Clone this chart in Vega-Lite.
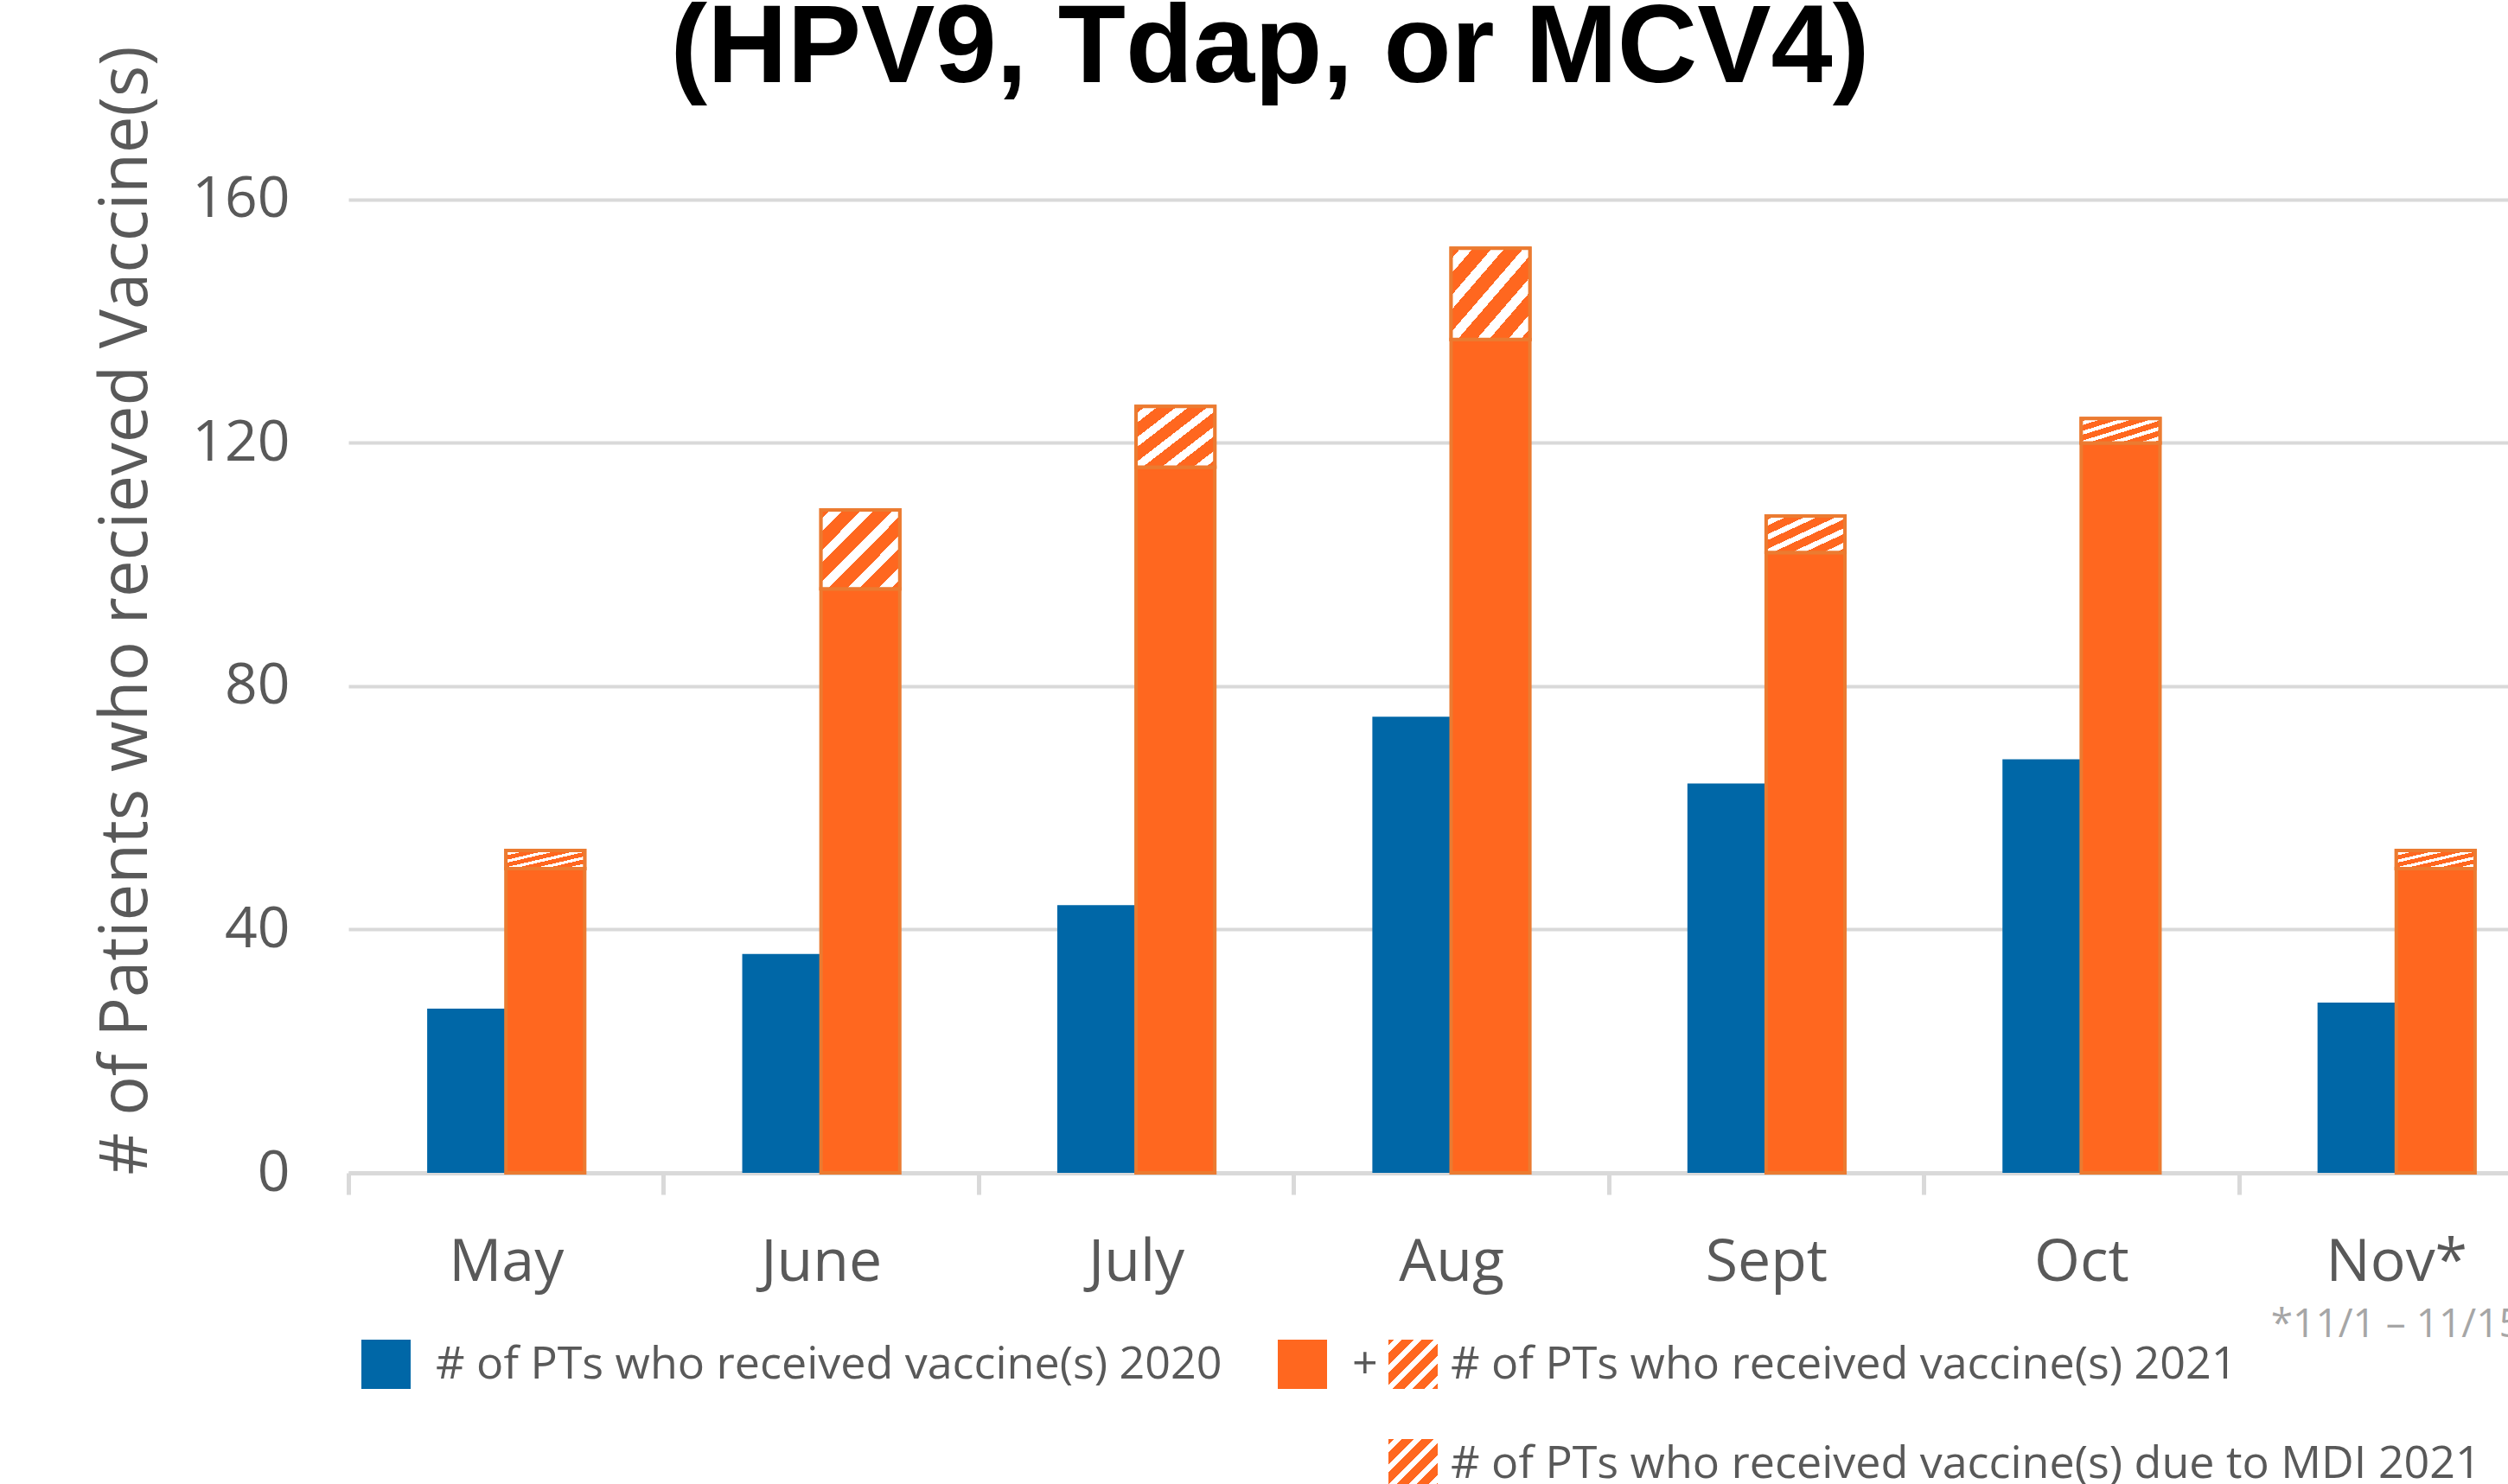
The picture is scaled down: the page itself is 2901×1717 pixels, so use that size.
{
  "$schema": "https://vega.github.io/schema/vega-lite/v6.json",
  "autosize": {"type": "none"},
  "width": 2498,
  "height": 1302,
  "padding": {"left": 403, "top": 55, "right": 0, "bottom": 360},
  "background": "white",
  "config": {"view": {"stroke": null}},
  "title": {
    "text": "(HPV9, Tdap, or MCV4)",
    "font": "Liberation Sans",
    "fontSize": 128,
    "fontWeight": "bold",
    "color": "#000000",
    "anchor": "middle",
    "frame": "group",
    "baseline": "alphabetic",
    "dx": -183,
    "offset": -170
  },
  "data": {
    "values": [
      {"month": "May", "year": "2020", "kind": "2020", "count": 27},
      {"month": "May", "year": "2021", "kind": "2021", "count": 50},
      {"month": "May", "year": "2021", "kind": "MDI", "count": 3},
      {"month": "June", "year": "2020", "kind": "2020", "count": 36},
      {"month": "June", "year": "2021", "kind": "2021", "count": 96},
      {"month": "June", "year": "2021", "kind": "MDI", "count": 13},
      {"month": "July", "year": "2020", "kind": "2020", "count": 44},
      {"month": "July", "year": "2021", "kind": "2021", "count": 116},
      {"month": "July", "year": "2021", "kind": "MDI", "count": 10},
      {"month": "Aug", "year": "2020", "kind": "2020", "count": 75},
      {"month": "Aug", "year": "2021", "kind": "2021", "count": 137},
      {"month": "Aug", "year": "2021", "kind": "MDI", "count": 15},
      {"month": "Sept", "year": "2020", "kind": "2020", "count": 64},
      {"month": "Sept", "year": "2021", "kind": "2021", "count": 102},
      {"month": "Sept", "year": "2021", "kind": "MDI", "count": 6},
      {"month": "Oct", "year": "2020", "kind": "2020", "count": 68},
      {"month": "Oct", "year": "2021", "kind": "2021", "count": 120},
      {"month": "Oct", "year": "2021", "kind": "MDI", "count": 4},
      {"month": "Nov*", "year": "2020", "kind": "2020", "count": 28},
      {"month": "Nov*", "year": "2021", "kind": "2021", "count": 50},
      {"month": "Nov*", "year": "2021", "kind": "MDI", "count": 3}
    ]
  },
  "layer": [
    {
      "transform": [
        {"stack": "count", "groupby": ["month", "year"], "sort": [{"field": "kind", "order": "ascending"}], "as": ["v0", "v1"]}
      ],
      "mark": {"type": "bar", "strokeWidth": 4},
      "encoding": {
        "x": {
          "field": "month", "type": "nominal",
          "sort": ["May", "June", "July", "Aug", "Sept", "Oct", "Nov*"],
          "scale": {"domain": ["May", "June", "July", "Aug", "Sept", "Oct", "Nov*"], "range": [0, 2551], "paddingInner": 0, "paddingOuter": 0},
          "axis": {
            "title": null,
            "labelAngle": 0,
            "labelFont": "Open Sans",
            "labelFontSize": 68,
            "labelColor": "#595959",
            "labelPadding": 45,
            "tickBand": "extent",
            "tickSize": 25,
            "tickWidth": 5,
            "tickColor": "#D9D9D9",
            "domainColor": "#D9D9D9",
            "domainWidth": 5,
            "grid": false
          }
        },
        "xOffset": {
          "field": "year", "type": "nominal",
          "scale": {"domain": ["2020", "2021"], "paddingInner": 0, "paddingOuter": 1.08}
        },
        "y": {
          "field": "v1", "type": "quantitative",
          "scale": {"domain": [0, 185], "nice": false},
          "axis": {
            "title": "# of Patients who recieved Vaccine(s)",
            "values": [0, 40, 80, 120, 160],
            "grid": true,
            "gridColor": "#D9D9D9",
            "gridWidth": 4,
            "domain": false,
            "ticks": false,
            "tickSize": 0,
            "labelFont": "Open Sans",
            "labelFontSize": 66,
            "labelColor": "#595959",
            "labelPadding": 68,
            "titleFont": "Open Sans",
            "titleFontSize": 76,
            "titleFontWeight": "normal",
            "titleColor": "#595959",
            "titlePadding": 36
          }
        },
        "y2": {"field": "v0"},
        "fill": {
          "field": "year", "type": "nominal",
          "scale": {"domain": ["2020", "2021"], "range": ["#0067A7", "#FF671F"]},
          "legend": {
            "title": null,
            "orient": "none",
            "legendX": 15,
            "legendY": 1495,
            "direction": "horizontal",
            "padding": 0,
            "symbolType": "square",
            "symbolSize": 3249,
            "symbolStrokeWidth": 0,
            "symbolOpacity": 1,
            "labelFont": "Open Sans",
            "labelFontSize": 52,
            "labelColor": "#595959",
            "labelLimit": 3000,
            "labelOffset": 29,
            "columnPadding": 64,
            "labelExpr": "datum.value === '2020' ? '# of PTs who received vaccine(s) 2020' : '+'"
          }
        },
        "stroke": {"condition": {"test": "datum.year === '2021'", "value": "#EB7B31"}, "value": "transparent"}
      }
    },
    {
      "transform": [
        {"stack": "count", "groupby": ["month", "year"], "sort": [{"field": "kind", "order": "ascending"}], "as": ["v0", "v1"]},
        {"filter": "datum.kind === 'MDI'"}
      ],
      "mark": {
        "type": "bar", "stroke": "#EB7B31", "strokeWidth": 4,
        "fill": {"gradient": "linear", "x1": 0, "y1": 0, "x2": 1, "y2": 1, "stops": [
          {"offset": 0, "color": "#FF671F"}, {"offset": 0.06, "color": "#FF671F"},
          {"offset": 0.06, "color": "#FFFFFF"}, {"offset": 0.14, "color": "#FFFFFF"},
          {"offset": 0.14, "color": "#FF671F"}, {"offset": 0.26, "color": "#FF671F"},
          {"offset": 0.26, "color": "#FFFFFF"}, {"offset": 0.34, "color": "#FFFFFF"},
          {"offset": 0.34, "color": "#FF671F"}, {"offset": 0.46, "color": "#FF671F"},
          {"offset": 0.46, "color": "#FFFFFF"}, {"offset": 0.54, "color": "#FFFFFF"},
          {"offset": 0.54, "color": "#FF671F"}, {"offset": 0.66, "color": "#FF671F"},
          {"offset": 0.66, "color": "#FFFFFF"}, {"offset": 0.74, "color": "#FFFFFF"},
          {"offset": 0.74, "color": "#FF671F"}, {"offset": 0.86, "color": "#FF671F"},
          {"offset": 0.86, "color": "#FFFFFF"}, {"offset": 0.94, "color": "#FFFFFF"},
          {"offset": 0.94, "color": "#FF671F"}, {"offset": 1, "color": "#FF671F"}
        ]}
      },
      "encoding": {
        "x": {"field": "month", "type": "nominal", "sort": ["May", "June", "July", "Aug", "Sept", "Oct", "Nov*"]},
        "xOffset": {"field": "year", "type": "nominal"},
        "y": {"field": "v1", "type": "quantitative"},
        "y2": {"field": "v0"},
        "opacity": {
          "field": "kind", "type": "nominal",
          "scale": {"domain": ["total2021", "MDI"], "range": [1, 1]},
          "legend": {
            "title": null,
            "orient": "none",
            "legendX": 1203,
            "legendY": 1495,
            "direction": "vertical",
            "padding": 0,
            "symbolType": "square",
            "symbolSize": 3249,
            "symbolStrokeWidth": 0,
            "labelFont": "Open Sans",
            "labelFontSize": 52,
            "labelColor": "#595959",
            "labelLimit": 3000,
            "labelOffset": 15,
            "rowPadding": 58,
            "labelExpr": "datum.value === 'MDI' ? '# of PTs who received vaccine(s) due to MDI 2021' : '# of PTs who received vaccine(s) 2021'",
            "encode": {
              "symbols": {
                "update": {
                  "fill": {"value": {"gradient": "linear", "x1": 0, "y1": 0, "x2": 1, "y2": 1, "stops": [
                    {"offset": 0, "color": "#FF671F"}, {"offset": 0.06, "color": "#FF671F"},
                    {"offset": 0.06, "color": "#FFFFFF"}, {"offset": 0.14, "color": "#FFFFFF"},
                    {"offset": 0.14, "color": "#FF671F"}, {"offset": 0.26, "color": "#FF671F"},
                    {"offset": 0.26, "color": "#FFFFFF"}, {"offset": 0.34, "color": "#FFFFFF"},
                    {"offset": 0.34, "color": "#FF671F"}, {"offset": 0.46, "color": "#FF671F"},
                    {"offset": 0.46, "color": "#FFFFFF"}, {"offset": 0.54, "color": "#FFFFFF"},
                    {"offset": 0.54, "color": "#FF671F"}, {"offset": 0.66, "color": "#FF671F"},
                    {"offset": 0.66, "color": "#FFFFFF"}, {"offset": 0.74, "color": "#FFFFFF"},
                    {"offset": 0.74, "color": "#FF671F"}, {"offset": 0.86, "color": "#FF671F"},
                    {"offset": 0.86, "color": "#FFFFFF"}, {"offset": 0.94, "color": "#FFFFFF"},
                    {"offset": 0.94, "color": "#FF671F"}, {"offset": 1, "color": "#FF671F"}
                  ]}},
                  "opacity": {"value": 1},
                  "strokeWidth": {"value": 0}
                }
              }
            }
          }
        }
      }
    },
    {
      "data": {"values": [{"month": "Nov*", "note": "*11/1 – 11/15"}]},
      "mark": {"type": "text", "font": "Open Sans", "fontSize": 46, "color": "#A6A6A6", "align": "center", "baseline": "alphabetic"},
      "encoding": {
        "x": {"field": "month", "type": "nominal", "sort": ["May", "June", "July", "Aug", "Sept", "Oct", "Nov*"]},
        "y": {"datum": -27, "type": "quantitative"},
        "text": {"field": "note"}
      }
    }
  ]
}
